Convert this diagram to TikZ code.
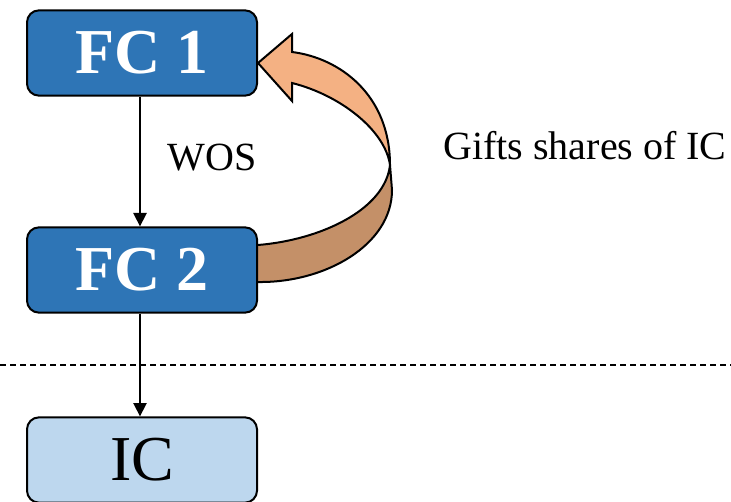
\documentclass[tikz,border=0pt]{standalone}
\usepackage{fontspec}
\setmainfont{Liberation Serif}
\usetikzlibrary{arrows.meta,positioning}
\definecolor{fcblue}{HTML}{2E75B6}
\definecolor{icblue}{HTML}{BDD7EE}
\definecolor{bandfront}{HTML}{F4B183}
\definecolor{bandback}{HTML}{C49068}
\begin{document}
\begin{tikzpicture}[x=0.75pt,y=-0.75pt,
  box/.style={draw,line width=1.5pt,rounded corners=9pt,minimum width=172.5pt,minimum height=64pt,inner sep=0pt},
  lbl/.style={font=\fontsize{30}{31}\selectfont}]
\useasboundingbox (0,0) rectangle (731,502);

% twisted band, back face first
\filldraw[fill=bandback,line width=1.5pt,line join=round] (250,245) -- (258,245) .. controls (320,240) and (385,210) .. (390,165) -- (392,190) .. controls (392,245) and (325,283) .. (258,282) -- (250,282);
\filldraw[fill=bandfront,line width=1.5pt,line join=miter] (258,63) -- (292,34) -- (292,52) .. controls (340,58) and (390,95) .. (390,165) .. controls (385,130) and (340,95) .. (292,83) -- (292,101) -- cycle;

\foreach \pos/\name/\txt/\col/\wt in {{(142,53)/fcone/FC 1/fcblue/\bfseries\color{white}}, {(142,270)/fctwo/FC 2/fcblue/\bfseries\color{white}}, {(142,460)/ic/IC/icblue/}}
\node[box,fill=\col,font=\wt\fontsize{48}{48}\selectfont] (\name) at \pos {\txt};

\node[lbl] (wos) at (212,158) {WOS};
\node[lbl] (gifts) at (585,146) {Gifts shares of IC};

% links
\foreach \source/\dest in {fcone/fctwo, fctwo/ic}
\draw[line width=1.2pt,-{Triangle[length=10pt,width=10pt]}] ([xshift=-1.5pt]\source.south) -- ([xshift=-1.5pt]\dest.north);

\draw[dashed,line width=1pt,dash pattern=on 4.5pt off 3pt] (0,365) -- (731,365);
\end{tikzpicture}
\end{document}
